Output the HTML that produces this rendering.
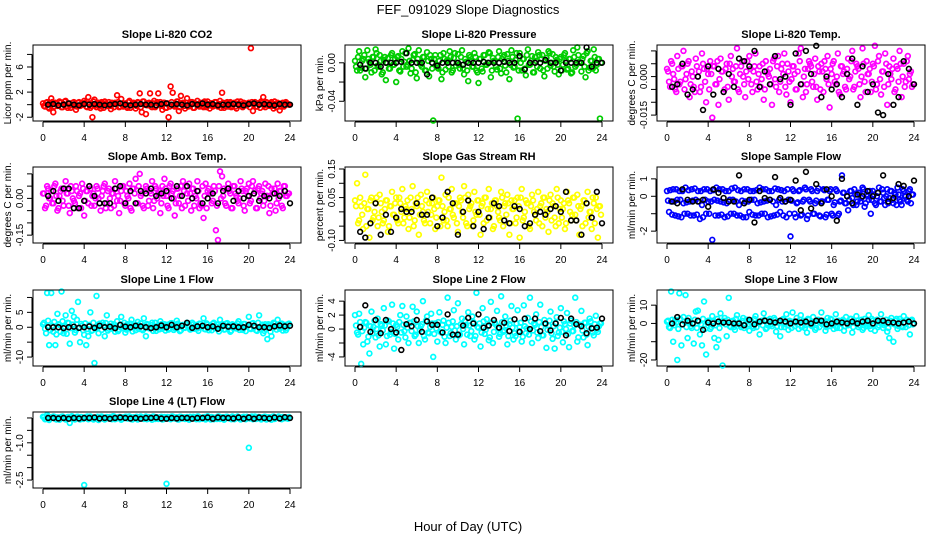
<!DOCTYPE html>
<html><head><meta charset="utf-8"><style>
html,body{margin:0;padding:0;background:#fff;}
svg{display:block;font-family:"Liberation Sans",sans-serif;}
</style></head><body>
<svg id="chart" width="936" height="540" viewBox="0 0 936 540">
<text x="468" y="14" font-size="13" text-anchor="middle">FEF_091029  Slope Diagnostics</text>
<text x="468" y="531" font-size="13" text-anchor="middle">Hour of Day (UTC)</text>
</svg>
<script>
const hoursColor = [0,0.2,0.4,0.6,0.8,1,1.2,1.4,1.6,1.8,2,2.2,2.4,2.6,2.8,3,3.2,3.4,3.6,3.8,4,4.2,4.4,4.6,4.8,5,5.2,5.4,5.6,5.8,6,6.2,6.4,6.6,6.8,7,7.2,7.4,7.6,7.8,8,8.2,8.4,8.6,8.8,9,9.2,9.4,9.6,9.8,10,10.2,10.4,10.6,10.8,11,11.2,11.4,11.6,11.8,12,12.2,12.4,12.6,12.8,13,13.2,13.4,13.6,13.8,14,14.2,14.4,14.6,14.8,15,15.2,15.4,15.6,15.8,16,16.2,16.4,16.6,16.8,17,17.2,17.4,17.6,17.8,18,18.2,18.4,18.6,18.8,19,19.2,19.4,19.6,19.8,20,20.2,20.4,20.6,20.8,21,21.2,21.4,21.6,21.8,22,22.2,22.4,22.6,22.8,23,23.2,23.4,23.6,23.8];
const hoursCore = [0.1,0.3,0.5,0.7,0.9,1.1,1.3,1.5,1.7,1.9,2.1,2.3,2.5,2.7,2.9,3.1,3.3,3.5,3.7,3.9,4.1,4.3,4.5,4.7,4.9,5.1,5.3,5.5,5.7,5.9,6.1,6.3,6.5,6.7,6.9,7.1,7.3,7.5,7.7,7.9,8.1,8.3,8.5,8.7,8.9,9.1,9.3,9.5,9.7,9.9,10.1,10.3,10.5,10.7,10.9,11.1,11.3,11.5,11.7,11.9,12.1,12.3,12.5,12.7,12.9,13.1,13.3,13.5,13.7,13.9,14.1,14.3,14.5,14.7,14.9,15.1,15.3,15.5,15.7,15.9,16.1,16.3,16.5,16.7,16.9,17.1,17.3,17.5,17.7,17.9,18.1,18.3,18.5,18.7,18.9,19.1,19.3,19.5,19.7,19.9,20.1,20.3,20.5,20.7,20.9,21.1,21.3,21.5,21.7,21.9,22.1,22.3,22.5,22.7,22.9,23.1,23.3,23.5,23.7,23.9];
const hoursBlack = [0.5,1,1.5,2,2.5,3,3.5,4,4.5,5,5.5,6,6.5,7,7.5,8,8.5,9,9.5,10,10.5,11,11.5,12,12.5,13,13.5,14,14.5,15,15.5,16,16.5,17,17.5,18,18.5,19,19.5,20,20.5,21,21.5,22,22.5,23,23.5,24];
const xTicks = [0,4,8,12,16,20,24];

const co2Color = [0.2,-0.3,0.4,-0.6,1.0,-1.2,0.3,-0.2,0.5,-0.4,0.1,0.6,-0.5,0.2,-0.1,0.4,-0.8,0.3,-0.2,0.1,0.6,-0.3,1.2,-0.5,-2.0,0.8,-0.4,0.3,-0.6,0.2,0.5,-0.2,0.4,-0.7,0.1,0.3,1.5,-0.4,0.9,-0.3,0.2,-0.5,0.6,-0.1,0.3,-0.6,0.4,1.8,-1.2,0.5,-1.5,0.2,1.8,-0.4,0.6,-0.2,1.8,0.4,-0.8,0.3,-0.5,-2.0,2.9,1.9,-0.3,0.5,-1.0,1.4,0.3,-0.6,1.0,-0.2,0.4,-0.5,0.2,0.6,-0.3,0.1,-0.4,0.3,0.5,-0.6,0.2,-0.1,0.4,-0.3,0.6,1.9,-0.5,0.2,-0.3,0.4,-0.2,0.3,-0.6,0.1,0.5,-0.4,0.2,-0.1,0.3,9.0,-1.0,0.4,-0.3,0.2,0.5,1.2,-0.4,0.3,-0.2,0.4,-0.6,0.1,0.3,-0.9,0.2,-0.3,0.4,0.1];
const co2Core = [-0.2,0.3,-0.4,0.1,0.4,-0.3,0.2,-0.1,0.3,-0.4,0.5,-0.2,0.1,-0.5,0.3,0.0,-0.3,0.4,-0.1,0.2,0.3,-0.4,0.2,-0.2,0.5,-0.1,0.1,-0.3,0.4,-0.5,0.2,0.0,-0.2,0.3,-0.4,0.1,0.4,-0.3,0.2,-0.1,-0.3,0.4,-0.5,0.2,0.1,-0.2,0.3,-0.4,0.5,0.0,-0.1,0.3,-0.3,0.2,-0.4,0.4,0.1,-0.2,0.3,-0.5,0.2,-0.3,0.4,-0.1,0.0,0.5,-0.4,0.1,-0.2,0.3,-0.3,0.2,0.4,-0.5,0.1,-0.1,0.3,-0.2,0.5,-0.4,0.0,0.2,-0.3,0.4,-0.1,0.1,-0.5,0.3,-0.2,0.4,0.2,-0.4,0.1,-0.3,0.5,0.0,-0.2,0.3,-0.1,0.2,-0.4,0.4,0.1,-0.3,0.2,-0.5,0.3,-0.1,0.4,0.0,0.2,-0.2,0.5,-0.4,0.1,-0.3,0.3,-0.1,0.2,0.0];
const co2Black = [0,0.1,-0.1,0,0.2,0,-0.1,0.1,0,0.1,0,-0.1,0,0.1,0.2,0,-0.1,0,0.1,0,0,-0.1,0.1,0.2,0,0.1,0,-0.1,0.1,0,0.2,0,0.1,-0.1,0,0,0.1,0,-0.1,0.1,0.2,0,0.1,0,-0.1,0.1,0,0];

const presColor = [0.002,-0.008,0.012,-0.005,0.004,-0.015,0.013,0.001,-0.010,0.006,0.014,-0.003,0.008,-0.012,0.003,-0.018,0.005,-0.006,0.010,-0.002,-0.020,0.007,-0.009,0.012,0.001,-0.004,0.015,-0.011,0.003,0.009,-0.016,0.013,-0.002,0.006,-0.008,0.011,-0.014,0.004,-0.060,0.008,-0.005,0.002,-0.017,0.010,-0.007,0.003,0.012,-0.010,0.005,-0.003,0.009,-0.006,0.013,-0.012,0.001,-0.019,0.006,-0.004,0.010,-0.008,-0.021,0.004,-0.009,0.008,-0.002,0.011,-0.015,0.005,0.002,-0.007,0.012,-0.011,0.006,-0.003,0.009,-0.017,0.013,-0.005,0.003,-0.058,0.010,-0.008,0.004,-0.013,0.014,-0.002,0.007,-0.010,0.002,0.011,-0.006,0.008,-0.014,0.005,0.012,-0.003,0.009,-0.009,0.003,-0.012,0.006,-0.002,0.010,-0.007,0.004,-0.011,0.013,-0.004,0.016,0.001,-0.009,0.007,-0.015,0.012,-0.005,0.002,0.014,-0.008,0.004,-0.058];
const presCore = [-0.004,0.006,-0.008,0.002,0.008,-0.006,0.004,-0.002,0.006,-0.008,0.010,-0.004,0.002,-0.010,0.006,0.000,-0.006,0.008,-0.002,0.004,0.006,-0.008,0.004,-0.004,0.010,-0.002,0.002,-0.006,0.008,-0.010,0.004,0.000,-0.004,0.006,-0.008,0.002,0.008,-0.006,0.004,-0.002,-0.006,0.008,-0.010,0.004,0.002,-0.004,0.006,-0.008,0.010,0.000,-0.002,0.006,-0.006,0.004,-0.008,0.008,0.002,-0.004,0.006,-0.010,0.004,-0.006,0.008,-0.002,0.000,0.010,-0.008,0.002,-0.004,0.006,-0.006,0.004,0.008,-0.010,0.002,-0.002,0.006,-0.004,0.010,-0.008,0.000,0.004,-0.006,0.008,-0.002,0.002,-0.010,0.006,-0.004,0.008,0.004,-0.008,0.002,-0.006,0.010,0.000,-0.004,0.006,-0.002,0.004,-0.008,0.008,0.002,-0.006,0.004,-0.010,0.006,-0.002,0.008,0.000,0.004,-0.004,0.010,-0.008,0.002,-0.006,0.006,-0.002,0.004,0.000];
const presBlack = [-0.002,-0.006,0,0,-0.004,0,0,0,0.001,0.010,0,0,0,-0.012,0,-0.003,0,0,0,0,-0.002,0,0,0,0.001,0,0,0,0.001,0,0,0.007,-0.007,0,0,0,0.003,0,0,-0.008,0,0,0,0,0.016,-0.004,0,0];

const liTempColor = [0.003,-0.002,0.006,0.001,-0.005,0.008,-0.003,0.004,0.010,-0.001,0.005,-0.008,0.002,-0.004,0.007,0.000,-0.006,0.009,0.003,-0.010,0.001,0.006,-0.016,0.004,-0.003,-0.011,0.007,0.002,-0.005,0.005,-0.009,0.008,0.003,-0.002,0.011,-0.006,0.004,0.000,-0.008,0.006,0.008,-0.003,0.002,0.009,-0.005,0.004,-0.001,-0.009,0.006,0.001,0.003,-0.011,0.007,-0.004,0.008,-0.002,0.005,0.009,-0.007,0.002,-0.010,0.004,0.001,-0.005,0.009,0.011,-0.008,0.003,-0.003,0.006,0.004,-0.004,0.007,-0.009,0.002,0.005,-0.006,0.003,0.008,-0.012,0.001,0.006,-0.003,0.009,-0.007,0.004,0.002,-0.005,0.007,0.000,0.010,-0.004,0.005,0.003,-0.008,0.011,-0.002,0.006,0.001,-0.006,0.005,0.012,-0.003,0.008,-0.007,0.002,0.009,-0.011,0.004,-0.001,0.007,-0.005,0.003,0.010,-0.008,0.005,-0.002,0.008,0.001,-0.004];
const liTempCore = [0.002,-0.004,0.005,-0.001,-0.006,0.003,-0.002,0.004,-0.005,0.001,0.006,-0.003,0.000,-0.006,0.004,0.002,-0.004,0.005,-0.002,0.003,-0.005,0.001,0.004,-0.003,0.006,-0.001,0.002,-0.006,0.003,-0.004,0.005,0.000,-0.002,0.004,-0.005,0.001,0.006,-0.003,0.002,-0.001,0.003,-0.006,0.004,-0.002,0.001,-0.004,0.005,-0.005,0.002,0.000,-0.003,0.006,-0.001,0.004,-0.006,0.003,0.001,-0.004,0.005,-0.002,-0.001,0.004,-0.005,0.002,0.006,-0.003,0.000,-0.006,0.003,0.005,-0.002,0.001,-0.004,0.004,-0.005,0.002,0.006,-0.001,-0.003,0.003,0.005,-0.002,0.000,-0.006,0.004,0.001,-0.004,0.003,-0.001,0.006,-0.005,0.002,0.004,-0.003,0.000,0.005,-0.006,0.001,0.003,-0.002,0.004,-0.005,0.006,-0.001,0.002,-0.004,0.005,-0.003,0.001,0.003,-0.006,0.004,-0.002,0.005,0.000,-0.004,0.006,-0.001,0.002,-0.003];
const liTempBlack = [-0.004,-0.003,0.005,-0.007,-0.005,0,-0.013,0.004,-0.007,0.003,-0.006,0.001,-0.004,0.007,0.006,0.004,0.010,-0.004,0.002,-0.003,0.008,-0.001,0.000,-0.011,0.009,-0.003,0.010,0.001,0.012,-0.008,0,-0.005,-0.003,-0.008,0.001,0.007,-0.011,0.004,-0.006,-0.003,-0.014,-0.015,0.001,-0.011,-0.008,0.006,0.003,-0.003];

const ambColor = [0.02,-0.04,0.05,0.00,0.03,-0.02,0.06,-0.05,0.01,0.04,-0.03,0.07,0.02,-0.06,0.03,-0.01,0.05,-0.04,0.02,0.06,-0.07,0.03,-0.02,0.04,0.01,-0.03,0.05,0.00,-0.05,0.03,0.06,-0.02,0.04,-0.04,0.02,0.07,-0.01,-0.06,0.03,0.05,-0.03,0.01,0.06,-0.05,0.04,0.08,-0.02,0.10,0.02,-0.04,0.05,-0.03,0.03,0.07,-0.01,0.04,0.02,-0.06,0.05,0.08,0.01,-0.04,0.06,0.03,-0.07,0.04,-0.02,0.05,0.07,-0.03,0.02,0.06,-0.05,0.04,0.01,0.07,-0.04,-0.03,-0.08,0.06,0.03,0.02,-0.02,0.05,-0.13,-0.17,0.11,0.09,0.04,-0.03,0.06,0.02,-0.04,0.05,0.01,-0.02,0.07,0.03,-0.05,0.04,0.06,-0.01,0.07,0.03,-0.04,0.05,0.02,-0.03,0.06,0.01,-0.06,0.04,0.02,-0.05,0.06,0.03,-0.03,0.05,0.01,0.02];
const ambCore = [0.02,-0.03,0.04,0.00,-0.02,0.05,0.01,-0.04,0.03,-0.01,0.04,0.02,-0.03,0.05,0.00,-0.02,0.03,0.01,-0.04,0.04,-0.01,0.03,0.05,-0.03,0.02,0.00,0.04,-0.02,0.01,0.05,-0.04,0.03,0.00,0.02,-0.03,0.04,0.01,-0.01,0.05,-0.02,0.03,0.00,-0.04,0.04,0.02,-0.02,0.05,0.01,-0.03,0.03,0.04,-0.01,0.02,-0.04,0.05,0.00,0.03,-0.02,0.01,0.04,-0.03,0.05,0.02,0.00,-0.02,0.04,0.01,-0.04,0.03,0.05,-0.01,0.02,0.04,-0.03,0.00,0.03,-0.02,0.05,0.01,-0.04,0.04,0.02,-0.01,0.03,-0.03,0.05,0.00,0.01,-0.02,0.04,0.03,-0.04,0.05,0.02,-0.01,0.00,0.04,-0.03,0.03,0.01,-0.02,0.05,0.02,-0.04,0.04,0.00,0.03,-0.01,0.01,0.05,-0.03,0.02,0.04,-0.02,0.00,0.03,-0.04,0.05,0.01,0.02];
const ambBlack = [0.01,0.03,-0.01,0.04,0.04,-0.04,-0.04,-0.01,0.05,0.01,-0.02,-0.02,-0.02,0.04,0.05,-0.02,0.03,-0.02,0.03,0.02,0.04,0.01,0.02,0.03,0.00,0.05,0.01,0.05,0.00,0.03,-0.02,0.00,0.02,-0.02,0.03,0.04,-0.01,0.03,0.00,0.01,0.02,-0.01,0.01,0.00,0.02,0.01,0.03,-0.02];

const rhColor = [0.04,0.10,-0.03,0.02,-0.06,0.13,0.01,-0.09,0.05,-0.02,0.03,-0.05,0.06,0.00,-0.03,0.04,-0.07,0.02,0.07,-0.01,0.05,-0.04,0.03,0.08,-0.02,0.01,-0.06,0.05,0.09,-0.03,0.02,-0.08,0.06,0.00,-0.04,0.07,0.03,-0.01,0.05,-0.06,0.02,0.04,0.12,-0.03,0.06,-0.05,0.01,0.08,-0.02,0.03,-0.07,0.05,0.00,0.09,-0.04,0.06,0.02,-0.05,0.07,-0.01,0.04,-0.08,0.03,0.05,-0.03,0.08,0.01,-0.06,0.04,0.02,-0.02,0.07,-0.05,0.03,0.06,-0.08,0.04,0.01,-0.04,0.05,-0.09,0.08,-0.02,0.04,0.03,-0.06,0.06,0.00,-0.03,0.07,0.02,-0.05,0.05,0.01,-0.07,0.06,0.03,-0.02,0.08,-0.04,0.04,0.01,-0.06,0.07,0.03,-0.03,0.05,-0.01,0.06,-0.08,0.02,0.04,-0.04,0.07,0.00,-0.06,0.03,0.05,-0.09,0.02];
const rhCore = [0.02,-0.04,0.05,-0.01,0.03,-0.05,0.01,0.04,-0.03,0.00,0.05,-0.02,0.03,-0.04,0.01,0.04,-0.05,0.02,-0.01,0.03,-0.03,0.05,0.00,-0.04,0.02,0.04,-0.02,0.01,-0.05,0.03,0.05,-0.01,0.02,-0.03,0.04,0.00,-0.04,0.03,0.01,-0.02,0.04,-0.05,0.02,0.00,-0.03,0.05,0.01,-0.01,0.03,-0.04,0.02,0.04,-0.02,0.05,-0.05,0.01,0.03,-0.03,0.00,0.04,-0.01,0.02,-0.04,0.05,0.01,-0.02,0.03,-0.05,0.04,0.00,-0.03,0.05,0.02,-0.01,0.03,-0.04,0.01,0.04,-0.02,0.02,0.05,-0.03,0.00,0.03,-0.05,0.02,0.04,-0.01,0.01,-0.04,0.03,0.05,-0.02,0.00,0.04,-0.03,0.02,-0.05,0.05,0.01,-0.02,0.03,-0.04,0.04,0.00,-0.01,0.05,-0.03,0.02,0.01,-0.05,0.04,0.03,-0.02,0.00,0.05,-0.04,0.01,0.02,-0.01];
const rhBlack = [-0.07,-0.09,-0.04,0.03,-0.08,-0.01,-0.07,-0.02,0.01,0.00,0.00,0.03,-0.01,-0.01,0.05,-0.05,-0.02,0.07,0.03,-0.08,0.00,0.04,-0.05,0.00,-0.06,-0.02,0.03,0.02,-0.03,-0.04,0.02,0.01,-0.05,-0.04,-0.01,0.00,-0.01,0.01,0.02,0.00,0.07,-0.03,-0.03,-0.08,0.03,-0.02,0.07,-0.04];

const sampleColor = [0.3,-0.9,-0.3,0.4,-1.1,-0.2,0.3,-1.2,-0.4,0.5,-1.0,-0.3,0.4,-1.1,-0.2,0.3,-1.3,-0.5,0.4,-1.0,-0.3,0.3,-2.5,-0.2,0.5,-1.1,-0.3,0.4,-1.2,-0.4,0.3,-1.0,-0.2,0.5,-1.1,-0.5,0.3,-1.2,-0.3,0.4,-0.9,-0.2,0.3,-1.1,-0.4,0.5,-1.0,-0.3,0.4,-1.2,-0.2,0.3,-1.1,-0.5,0.4,-0.9,-0.3,0.3,-1.2,-0.2,-2.3,0.4,-1.0,-0.4,0.3,-1.1,-0.3,0.5,-1.3,-0.2,0.4,-1.0,-0.4,0.3,-1.1,-0.3,0.4,-1.2,-0.2,0.3,-1.0,-0.5,0.4,-1.1,-0.3,1.2,0.2,-0.4,-0.8,0.3,-0.1,0.4,-0.5,0.2,-0.3,0.5,-0.6,0.1,-0.2,-1.0,0.3,-0.4,0.0,0.5,-0.3,0.2,-0.5,0.4,-0.1,0.3,-0.4,0.1,0.5,-0.2,-0.5,0.3,0.0,-0.3,0.4,0.1];
const sampleCore = [-0.25,0.35,-1.05,-0.3,0.4,-1.15,-0.2,0.3,-1.0,-0.35,0.35,-1.1,-0.25,0.45,-1.05,-0.3,0.3,-1.2,-0.2,0.4,-1.0,-0.3,0.35,-1.1,-0.25,0.4,-1.05,-0.35,0.3,-1.15,-0.2,0.45,-1.0,-0.3,0.35,-1.1,-0.25,0.4,-1.2,-0.3,0.3,-1.05,-0.2,0.35,-1.1,-0.35,0.4,-1.0,-0.25,0.3,-1.15,-0.3,0.45,-1.05,-0.2,0.35,-1.1,-0.3,0.4,-1.0,-0.25,0.3,-1.2,-0.35,0.35,-1.05,-0.2,0.4,-1.1,-0.3,0.3,-1.0,-0.25,0.45,-1.15,-0.3,0.35,-1.05,-0.2,0.4,-1.1,-0.35,0.3,-1.0,-0.25,0.2,-0.4,0.0,-0.2,0.3,-0.5,0.1,-0.3,0.2,-0.1,0.4,-0.4,0.0,0.3,-0.2,0.1,-0.5,0.2,-0.3,0.4,-0.1,0.0,-0.4,0.3,-0.2,0.2,-0.5,0.1,-0.3,0.4,0.0,-0.2,0.3,-0.4,0.1];
const sampleBlack = [-0.3,-0.4,0.4,-0.2,-0.3,-0.3,-0.2,-0.6,0.4,0.2,-0.1,-0.3,-0.3,1.2,-0.4,-0.2,-1.5,0.3,-0.1,-0.2,1.1,-0.1,-0.3,-0.2,0.9,-0.8,1.4,-0.7,0.7,-0.4,0.4,0.0,-1.4,1.0,0.0,-0.4,0.1,0.0,0.3,0.0,0.2,1.2,-0.3,-0.1,0.7,0.6,0.0,0.9];

const line1Color = [1.0,-0.5,11.5,-6.0,11.5,-1.5,-6.0,4.5,0.8,12.0,-2.0,4.0,1.5,-5.5,5.5,3.5,-1.0,8.5,-5.0,0.5,-2.5,-6.0,-3.0,5.0,-1.0,-12.0,10.5,-2.0,0.8,1.5,-3.0,4.0,-0.5,1.2,0.3,-1.5,2.0,-0.8,3.5,0.5,-1.8,1.0,-0.3,2.5,0.6,-1.0,1.8,0.2,-0.6,3.0,-3.0,0.8,-0.4,1.5,0.3,-1.2,0.7,2.0,-0.5,1.0,0.4,-0.8,1.3,0.2,-0.3,2.2,0.5,-1.0,0.8,-0.2,1.5,0.3,-0.6,1.0,0.6,-0.4,1.2,0.2,3.0,-0.7,0.9,0.4,-1.0,1.5,0.3,-0.5,2.5,0.1,-0.8,1.2,0.6,-1.5,1.0,0.3,-0.4,2.0,0.5,-0.9,1.1,0.2,3.5,-0.6,1.4,0.4,-1.2,4.0,0.3,-2.0,1.0,-4.0,0.6,-3.0,1.5,0.3,2.5,-0.5,1.2,0.4,-1.0,1.0];
const line1Core = [1.5,-2.0,2.2,-1.0,0.5,1.8,-2.4,1.0,-1.5,2.0,0.2,-2.2,1.4,-0.3,0.9,-1.8,2.5,-0.2,1.1,-1.0,1.3,-0.6,0.8,-1.2,1.5,-0.4,0.2,1.2,-0.9,0.6,1.4,-1.1,0.3,-0.5,1.0,0.4,-1.3,0.9,-0.2,1.5,-0.8,0.5,1.2,-1.4,0.1,0.8,-0.6,1.3,-1.0,0.4,1.1,-0.3,0.7,-1.2,1.5,0.0,-0.7,1.0,0.5,-1.1,0.9,-0.4,1.4,-0.9,0.2,1.2,-1.3,0.6,-0.1,1.0,0.4,-0.8,1.5,-0.5,0.8,-1.2,1.1,0.3,-0.6,1.3,-1.0,0.6,1.2,-0.3,0.9,-1.4,0.2,1.0,-0.7,1.4,0.5,-1.1,0.8,-0.2,1.3,-0.9,0.4,1.1,-1.3,0.7,-0.4,1.2,0.1,-1.0,1.5,-0.6,0.9,-1.2,0.3,1.0,-1.5,0.6,1.3,-0.8,0.2,1.1,-1.1,0.8,-0.3,1.2];
const line1Black = [0,0,0,-0.3,0,0.2,-0.2,0,0.3,-0.2,0.5,0,0.2,-0.3,0.8,0.2,0,0.5,0.3,0,-0.3,0,0.6,0,0.8,0,0.5,1.5,-0.2,0.3,0.5,0,0.3,-0.5,0.5,0.2,0.3,0,0,0.8,0.5,0,0,-0.2,0.3,0.6,0.3,0.5];

const line2Color = [2.0,-0.5,2.2,-5.0,-2.2,1.0,-1.8,-3.5,2.5,0.3,-1.2,1.5,-2.5,0.5,3.0,-2.2,1.2,-0.8,3.5,-2.8,0.6,-1.5,2.0,3.3,-0.3,1.8,-2.0,0.9,3.2,-1.0,2.5,-2.0,0.4,4.0,-1.5,1.8,-0.6,2.2,-4.0,0.8,-1.8,2.4,-0.5,1.2,-2.0,4.5,-1.0,0.3,2.7,-1.5,3.7,-0.8,1.5,-2.2,0.6,2.4,-1.0,1.8,-1.5,5.2,0.2,-2.5,3.0,-0.7,1.4,-1.6,3.9,-2.0,0.9,2.6,-1.1,4.7,-0.4,1.8,-2.2,0.7,3.3,-1.5,-1.0,2.7,0.3,-1.8,3.4,-0.6,1.6,4.5,-2.0,0.8,2.1,-1.3,3.5,-0.9,1.3,-2.7,0.5,2.5,-1.4,-2.8,1.7,-0.5,3.0,-1.9,0.7,2.3,-2.6,1.2,-0.3,4.5,-1.8,0.6,2.6,-1.2,0.9,-2.3,1.5,0.2,-0.9,1.9,-0.4,0.8];
const line2Core = [0.5,-0.8,1.0,-0.3,0.2,0.9,-1.1,0.4,-0.6,1.2,0.0,-0.9,0.7,-0.2,0.5,-1.0,1.1,-0.4,0.8,-0.7,0.3,1.0,-0.5,0.6,-1.2,0.2,0.9,-0.3,1.1,-0.8,0.4,-0.1,0.7,-1.0,1.2,-0.5,0.3,0.8,-0.7,0.1,1.0,-0.4,0.6,-1.1,0.2,0.9,-0.6,1.1,-0.2,0.4,-0.9,0.7,0.0,1.2,-0.8,0.5,-0.3,1.0,-1.0,0.3,0.8,-0.5,1.1,-0.1,0.4,-1.2,0.9,-0.4,0.6,0.1,-0.7,1.0,-0.2,0.5,-1.0,1.2,0.2,-0.6,0.8,-0.3,0.9,-1.1,0.4,0.1,-0.8,1.1,-0.2,0.6,-0.5,1.0,0.3,-0.9,0.7,-0.1,1.2,-0.6,0.4,0.9,-1.0,0.2,-0.4,1.1,0.0,-0.7,0.8,-0.3,0.5,1.0,-1.2,0.6,-0.2,0.9,-0.8,0.3,1.1,-0.5,0.7,-0.1,0.4,0.8];
const line2Black = [0.3,3.4,-0.4,1.3,-0.6,1.3,0,-0.5,-3.0,0.7,0.4,1.3,-0.4,1.1,0.6,0.6,-0.5,2.1,-0.8,-0.8,0.5,1.6,0.8,2.1,0.2,0.5,1.3,0.2,0.9,-0.3,1.4,-0.4,1.5,0,1.5,-0.3,0.8,-0.2,0.8,1.6,-0.9,1.5,0.7,0.4,-0.6,0.1,0.2,1.5];

const line3Color = [1.0,-2.0,17.5,-10.0,2.0,-20.0,16.5,-12.0,3.5,15.5,-8.0,0.5,-2.5,-11.0,6.5,7.0,-6.0,-12.0,12.0,-17.0,1.5,-3.0,4.0,-8.0,-13.0,-9.0,5.5,-23.0,3.0,-7.0,14.0,-2.0,1.5,-3.5,4.5,0.5,-2.0,3.0,-1.0,2.0,-4.0,1.0,-2.5,4.0,0.3,-6.0,1.5,5.5,-3.0,-1.0,2.5,-1.5,3.0,-4.5,0.5,-7.0,2.0,-2.0,5.0,-3.5,1.0,6.0,-1.5,3.0,-3.0,4.5,0.8,-2.5,-5.0,2.0,-1.0,3.5,-3.5,1.5,-2.0,6.0,0.5,-4.0,3.0,-1.5,2.0,-3.0,5.0,0.5,-2.5,1.5,-4.0,3.5,-1.0,2.5,-5.0,1.0,4.0,-2.0,0.8,-3.5,2.5,-1.5,4.5,-3.0,1.5,-4.0,2.0,-1.0,5.0,-2.5,0.5,-4.5,-8.0,3.0,-10.0,1.5,-3.0,2.5,-1.5,4.0,-2.0,1.0,-6.0,2.0];
const line3Core = [1.5,-2.5,2.0,-1.0,0.5,-3.0,2.5,-0.5,1.0,-2.0,3.0,-1.5,0.0,2.0,-2.5,1.0,-0.5,2.5,-3.0,0.5,1.5,-2.0,1.0,-1.0,2.5,-2.5,0.5,1.5,-0.5,2.0,-1.5,1.0,-2.0,2.5,0.0,-1.0,1.5,-2.5,2.0,-0.5,1.0,-1.5,2.5,-2.0,0.5,1.0,-1.0,2.0,-2.5,1.5,-0.5,0.5,2.0,-1.5,1.0,-2.0,2.5,0.0,-1.0,1.5,-2.5,1.0,0.5,-0.5,2.0,-2.0,1.5,-1.0,2.5,0.0,-1.5,1.0,-2.5,2.0,0.5,-0.5,1.5,-2.0,1.0,2.5,-1.0,0.5,-2.5,1.5,0.0,2.0,-1.5,1.0,-0.5,2.5,-2.0,0.5,1.5,-1.0,2.0,-2.5,1.0,0.0,-1.5,2.5,-0.5,1.5,-2.0,1.0,0.5,-1.0,2.0,-2.5,1.5,0.0,-0.5,2.5,-1.5,1.0,-2.0,0.5,2.0,-1.0,1.5,-0.5];
const line3Black = [0,3.5,-0.5,1.5,0,1.5,-3.5,0.5,0,1,0.5,0.5,0,0,-1,2,-0.5,1,1.5,1,0.5,1.5,1,0,1,0.5,1,0,1.5,1.5,-0.5,0,1,0.5,0,1,0,1,1.5,0,1.5,1.5,0.5,0.5,0,0.5,1,0];

const line4Color = [0.05,-0.05,0.12,-0.08,0.03,0.06,-0.04,0.02,-0.07,0.05,0.01,-0.06,0.04,-0.2,0.07,-0.03,0.02,0.05,-0.06,0.03,-2.7,0.04,-0.05,0.06,0.01,-0.04,0.03,-0.08,0.05,0.02,-0.06,0.04,0.01,-0.03,0.07,-0.05,0.02,0.04,-0.07,0.03,0.05,-0.02,0.06,-0.05,0.03,0.01,-0.06,0.04,0.02,-0.04,0.06,-0.03,0.02,-0.07,0.05,0.01,-0.04,0.03,-0.06,0.04,-2.65,0.02,-0.05,0.06,-0.02,0.03,-0.06,0.05,0.01,-0.04,0.04,-0.07,0.02,0.05,-0.03,0.06,-0.05,0.01,0.03,-0.06,0.07,-0.02,0.04,-0.05,0.02,0.06,-0.04,0.03,-0.07,0.05,0.01,-0.03,0.06,-0.05,0.02,0.04,-0.06,0.03,-0.02,0.05,-1.2,0.03,-0.05,0.06,-0.02,0.04,-0.06,0.01,0.05,-0.04,0.03,-0.07,0.06,-0.02,0.04,0.01,-0.05,0.03,0.02,-0.03];
const line4Core = [0.03,-0.04,0.06,-0.02,0.01,0.05,-0.06,0.02,-0.03,0.06,0.00,-0.05,0.04,-0.01,0.03,-0.06,0.05,-0.02,0.04,-0.04,0.02,0.06,-0.03,0.03,-0.06,0.01,0.05,-0.02,0.06,-0.04,0.02,-0.01,0.04,-0.05,0.06,-0.03,0.01,0.04,-0.04,0.00,0.05,-0.02,0.03,-0.06,0.01,0.05,-0.03,0.06,-0.01,0.02,-0.05,0.04,0.00,0.06,-0.04,0.03,-0.02,0.05,-0.05,0.01,0.04,-0.03,0.06,-0.01,0.02,-0.06,0.05,-0.02,0.03,0.00,-0.04,0.05,-0.01,0.03,-0.05,0.06,0.01,-0.03,0.04,-0.02,0.05,-0.06,0.02,0.00,-0.04,0.06,-0.01,0.03,-0.03,0.05,0.02,-0.05,0.04,-0.01,0.06,-0.03,0.02,0.05,-0.05,0.01,-0.02,0.06,0.00,-0.04,0.04,-0.02,0.03,0.05,-0.06,0.03,-0.01,0.05,-0.04,0.02,0.06,-0.03,0.04,-0.01,0.02,0.04];
const line4Black = [0,0,-0.02,0,-0.03,0,-0.02,0,0,0.02,-0.02,0,-0.03,0,0.02,0,-0.02,0,-0.03,0,0,0.02,-0.02,-0.03,0,-0.02,0,0,-0.03,0,0,0.02,-0.03,0.02,0,0,-0.02,0.02,-0.03,0.02,-0.03,0.02,0,-0.02,0.02,-0.02,0.03,0];

const panels = [
 {name:'co2',title:'Slope Li-820 CO2',ylab:'Licor ppm per min.',col:0,row:0,color:'#ff0000',ylim:[-2.6,9.5],ticks:[-2,0,2,4,6,8],labels:['-2','','2','','6',''],c:co2Color,k:co2Core,b:co2Black},
 {name:'pressure',title:'Slope Li-820 Pressure',ylab:'kPa per min.',col:1,row:0,color:'#00cd00',ylim:[-0.0605,0.0185],ticks:[0,-0.02,-0.04],labels:['0.00','','-0.04'],c:presColor,k:presCore,b:presBlack},
 {name:'li820-temp',title:'Slope Li-820 Temp.',ylab:'degrees C per min.',col:2,row:0,color:'#ff00ff',ylim:[-0.0173,0.0123],ticks:[0.01,0.005,0,-0.005,-0.01,-0.015],labels:['','','0.000','','','-0.015'],c:liTempColor,k:liTempCore,b:liTempBlack},
 {name:'amb-box-temp',title:'Slope Amb. Box Temp.',ylab:'degrees C per min.',col:0,row:1,color:'#ff00ff',ylim:[-0.182,0.128],ticks:[0.1,0.05,0,-0.05,-0.1,-0.15],labels:['','','0.00','','','-0.15'],c:ambColor,k:ambCore,b:ambBlack},
 {name:'gas-stream-rh',title:'Slope Gas Stream RH',ylab:'percent per min.',col:1,row:1,color:'#ffff00',ylim:[-0.109,0.157],ticks:[0.15,0.1,0.05,0,-0.05,-0.1],labels:['0.15','','0.05','','','-0.10'],c:rhColor,k:rhCore,b:rhBlack},
 {name:'sample-flow',title:'Slope Sample Flow',ylab:'ml/min per min.',col:2,row:1,color:'#0000ff',ylim:[-2.68,1.68],ticks:[1,0,-1,-2],labels:['1','0','','-2'],c:sampleColor,k:sampleCore,b:sampleBlack},
 {name:'line1-flow',title:'Slope Line 1 Flow',ylab:'ml/min per min.',col:0,row:2,color:'#00ffff',ylim:[-13,12.5],ticks:[10,5,0,-5,-10],labels:['','5','0','','-10'],c:line1Color,k:line1Core,b:line1Black},
 {name:'line2-flow',title:'Slope Line 2 Flow',ylab:'ml/min per min.',col:1,row:2,color:'#00ffff',ylim:[-5.3,5.6],ticks:[4,2,0,-2,-4],labels:['4','2','0','','-4'],c:line2Color,k:line2Core,b:line2Black},
 {name:'line3-flow',title:'Slope Line 3 Flow',ylab:'ml/min per min.',col:2,row:2,color:'#00ffff',ylim:[-23.3,18.3],ticks:[10,0,-10,-20],labels:['10','0','','-20'],c:line3Color,k:line3Core,b:line3Black},
 {name:'line4-flow',title:'Slope Line 4 (LT) Flow',ylab:'ml/min per min.',col:0,row:3,color:'#00ffff',ylim:[-2.82,0.24],ticks:[0,-0.5,-1,-1.5,-2,-2.5],labels:['','','-1.0','','','-2.5'],c:line4Color,k:line4Core,b:line4Black}
];

const NS='http://www.w3.org/2000/svg';
const svg=document.getElementById('chart');
const colLeft=[33,345,657], rowTop=[45,167,290,412], W=268, H=76;
function mk(tag,attrs,parent){const e=document.createElementNS(NS,tag);for(const k in attrs)e.setAttribute(k,attrs[k]);(parent||svg).appendChild(e);return e;}

panels.forEach(p=>{
  const L=colLeft[p.col], T=rowTop[p.row];
  const g=mk('g',{});
  
  
  const xs=h=>L+10+h*(247/24);
  const ys=v=>T+H-(v-p.ylim[0])/(p.ylim[1]-p.ylim[0])*H;
  const t=mk('text',{x:L+W/2,y:T-7,'font-size':'11','font-weight':'bold','text-anchor':'middle'},g);
  t.textContent=p.title;
  
  
  const ya=mk('g',{},g);
  
  
  mk('line',{x1:L-1,x2:L-1,y1:ys(p.ticks[0]),y2:ys(p.ticks[p.ticks.length-1]),stroke:'#000','stroke-width':1},ya);
  p.ticks.forEach((v,i)=>{
    const y=ys(v);
    mk('line',{x1:L-6,x2:L-1,y1:y,y2:y,stroke:'#000','stroke-width':1},ya);
    if(p.labels[i]){
      const tl=mk('text',{x:0,y:0,'font-size':'10','text-anchor':'middle',transform:`translate(${L-10},${y}) rotate(-90)`},ya);
      tl.textContent=p.labels[i];
      
      
    }
  });
  const yl=mk('text',{x:0,y:0,'font-size':'10','text-anchor':'middle',transform:`translate(${L-22},${T+H/2}) rotate(-90)`},g);
  yl.textContent=p.ylab;
  
  
  const xa=mk('g',{},g);
  
  
  mk('line',{x1:xs(0),x2:xs(24),y1:T+H+1,y2:T+H+1,stroke:'#000','stroke-width':1},xa);
  xTicks.forEach(h=>{
    mk('line',{x1:xs(h),x2:xs(h),y1:T+H+1,y2:T+H+6,stroke:'#000','stroke-width':1},xa);
    const xl=mk('text',{x:xs(h),y:T+H+20,'font-size':'10','text-anchor':'middle'},xa);
    xl.textContent=h;
    
    
  });
  const cg=mk('g',{fill:'none',stroke:p.color,'stroke-width':1.7},g);
  
  
  p.c.forEach((v,i)=>{
    const c=mk('circle',{cx:xs(hoursColor[i]),cy:ys(v),r:2.4},cg);
    
    
  });
  p.k.forEach((v,i)=>{
    const c=mk('circle',{cx:xs(hoursCore[i]),cy:ys(v),r:2.4},cg);
    
    
  });
  const bg=mk('g',{fill:'none',stroke:'#000','stroke-width':1.6},g);
  
  
  p.b.forEach((v,i)=>{
    const c=mk('circle',{cx:xs(hoursBlack[i]),cy:ys(v),r:2.4},bg);
    
    
  });
  const box=mk('rect',{x:L,y:T,width:W,height:H,fill:'none',stroke:'#000','stroke-width':1},g);
  
  
});
</script>
</body></html>
